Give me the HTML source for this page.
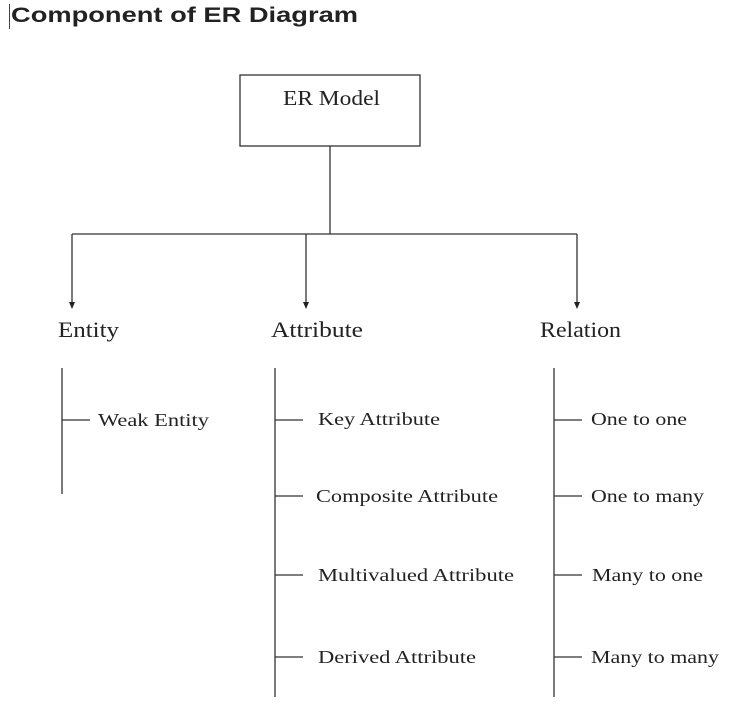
<!DOCTYPE html>
<html><head><meta charset="utf-8">
<style>
body{margin:0;background:#fff;width:750px;height:713px;overflow:hidden}
svg{display:block}
.s{font-family:"Liberation Serif",serif;fill:#222}
</style></head><body>
<svg width="750" height="713" viewBox="0 0 750 713">
<line x1="9.5" y1="4" x2="9.5" y2="29" stroke="#444" stroke-width="1"/>
<text x="11" y="22" font-family="Liberation Sans, sans-serif" font-weight="bold" font-size="21" fill="#222" textLength="347" lengthAdjust="spacingAndGlyphs">Component of ER Diagram</text>
<g stroke="#333" stroke-width="1.3" fill="none">
<rect x="240" y="75" width="180" height="71"/>
<line x1="330" y1="146" x2="330" y2="234"/>
<line x1="72" y1="234" x2="577" y2="234"/>
<line x1="72" y1="234" x2="72" y2="302"/>
<line x1="306" y1="234" x2="306" y2="302"/>
<line x1="577" y1="234" x2="577" y2="302"/>
<line x1="62" y1="368" x2="62" y2="494"/>
<line x1="62" y1="420" x2="90" y2="420"/>
<line x1="275" y1="368" x2="275" y2="697"/>
<line x1="275" y1="420" x2="303" y2="420"/>
<line x1="275" y1="496" x2="303" y2="496"/>
<line x1="275" y1="575" x2="303" y2="575"/>
<line x1="275" y1="657" x2="303" y2="657"/>
<line x1="554" y1="368" x2="554" y2="697"/>
<line x1="554" y1="420" x2="582" y2="420"/>
<line x1="554" y1="496" x2="582" y2="496"/>
<line x1="554" y1="575" x2="582" y2="575"/>
<line x1="554" y1="657" x2="582" y2="657"/>
</g>
<g fill="#222">
<polygon points="69,302 75,302 72,309"/>
<polygon points="303,302 309,302 306,309"/>
<polygon points="574,302 580,302 577,309"/>
</g>
<text class="s" x="283" y="105" font-size="21" textLength="97" lengthAdjust="spacingAndGlyphs">ER Model</text>
<text class="s" x="58" y="337" font-size="22" textLength="61" lengthAdjust="spacingAndGlyphs">Entity</text>
<text class="s" x="271" y="337" font-size="22" textLength="92" lengthAdjust="spacingAndGlyphs">Attribute</text>
<text class="s" x="540" y="337" font-size="22" textLength="81" lengthAdjust="spacingAndGlyphs">Relation</text>
<g class="s" font-size="18" lengthAdjust="spacingAndGlyphs">
<text x="98" y="426" textLength="111" lengthAdjust="spacingAndGlyphs">Weak Entity</text>
<text x="318" y="425" textLength="122" lengthAdjust="spacingAndGlyphs">Key Attribute</text>
<text x="316" y="502" textLength="182" lengthAdjust="spacingAndGlyphs">Composite Attribute</text>
<text x="318" y="581" textLength="196" lengthAdjust="spacingAndGlyphs">Multivalued Attribute</text>
<text x="318" y="663" textLength="158" lengthAdjust="spacingAndGlyphs">Derived Attribute</text>
<text x="591" y="425" textLength="96" lengthAdjust="spacingAndGlyphs">One to one</text>
<text x="591" y="502" textLength="113" lengthAdjust="spacingAndGlyphs">One to many</text>
<text x="592" y="581" textLength="111" lengthAdjust="spacingAndGlyphs">Many to one</text>
<text x="591" y="663" textLength="128" lengthAdjust="spacingAndGlyphs">Many to many</text>
</g>
</svg>
</body></html>
